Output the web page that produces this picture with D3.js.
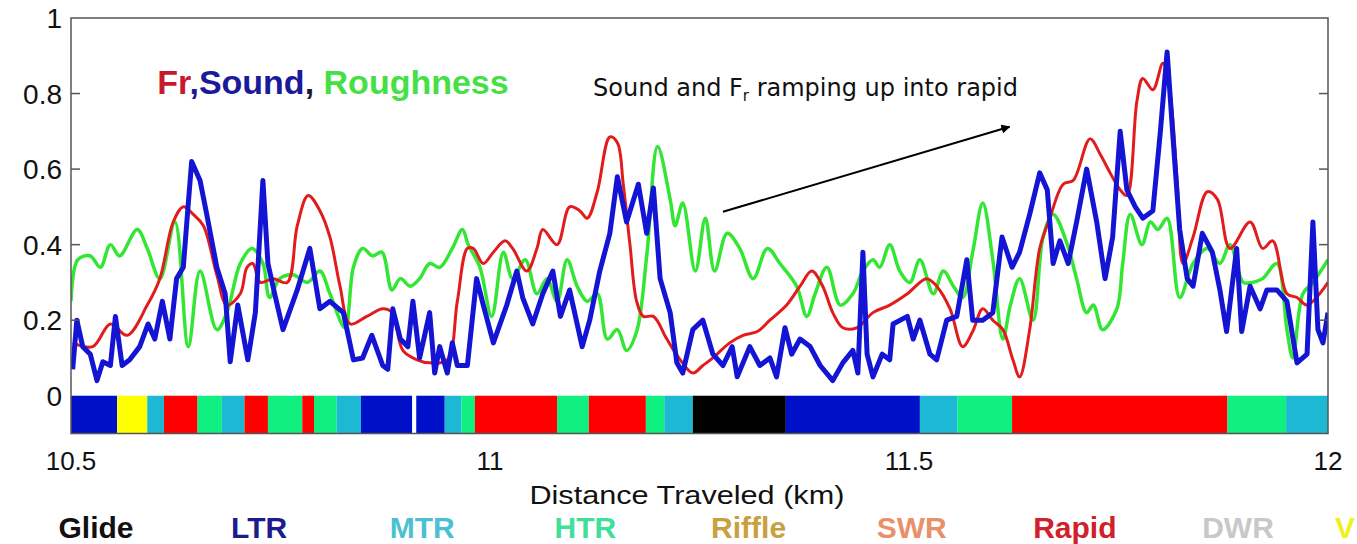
<!DOCTYPE html>
<html>
<head>
<meta charset="utf-8">
<script src="https://cdn.jsdelivr.net/npm/d3@7"></script>
<style>
  body { margin: 0; background: #fff; }
  svg { display: block; font-family: Arial, "Liberation Sans", sans-serif; }
</style>
</head>
<body>
<div id="wrapper"></div>
<script>
// 1. Data (distance in km, value)

const roughnessPoints = [
  [10.5,0.25],[10.508,0.36],[10.523,0.37],[10.535,0.34],[10.547,0.40],[10.558,0.37],[10.579,0.44],
  [10.591,0.39],[10.606,0.31],[10.624,0.46],[10.640,0.13],[10.654,0.33],[10.674,0.175],[10.686,0.22],
  [10.702,0.35],[10.716,0.39],[10.729,0.35],[10.737,0.26],[10.749,0.31],[10.765,0.32],[10.782,0.30],
  [10.797,0.33],[10.809,0.27],[10.827,0.18],[10.837,0.34],[10.848,0.39],[10.860,0.37],[10.871,0.38],
  [10.883,0.28],[10.893,0.31],[10.905,0.29],[10.916,0.31],[10.928,0.35],[10.940,0.34],[10.955,0.39],
  [10.967,0.44],[10.974,0.40],[10.988,0.34],[11.002,0.21],[11.016,0.38],[11.027,0.31],[11.042,0.36],
  [11.056,0.27],[11.068,0.31],[11.080,0.25],[11.092,0.36],[11.104,0.29],[11.116,0.25],[11.128,0.27],
  [11.140,0.15],[11.152,0.175],[11.163,0.12],[11.175,0.17],[11.187,0.37],[11.200,0.66],[11.215,0.52],
  [11.221,0.45],[11.230,0.51],[11.245,0.33],[11.257,0.47],[11.268,0.33],[11.283,0.43],[11.298,0.39],
  [11.314,0.31],[11.331,0.39],[11.346,0.35],[11.366,0.29],[11.378,0.21],[11.388,0.27],[11.402,0.34],
  [11.418,0.24],[11.433,0.27],[11.445,0.33],[11.457,0.36],[11.465,0.34],[11.477,0.40],[11.489,0.33],
  [11.501,0.30],[11.513,0.36],[11.529,0.27],[11.541,0.33],[11.553,0.29],[11.564,0.26],[11.576,0.38],
  [11.588,0.51],[11.600,0.36],[11.612,0.15],[11.621,0.24],[11.632,0.31],[11.648,0.20],[11.660,0.42],
  [11.672,0.48],[11.689,0.40],[11.700,0.31],[11.712,0.22],[11.720,0.24],[11.731,0.175],[11.748,0.23],
  [11.755,0.35],[11.764,0.48],[11.778,0.40],[11.788,0.46],[11.797,0.44],[11.808,0.47],[11.823,0.26],
  [11.839,0.35],[11.856,0.39],[11.871,0.35],[11.883,0.40],[11.899,0.30],[11.910,0.30],[11.922,0.31],
  [11.939,0.35],[11.951,0.175],[11.958,0.10],[11.970,0.27],[11.982,0.30],[12.0,0.36]
]

const frPoints = [
  [10.502,0.14],[10.526,0.13],[10.547,0.19],[10.567,0.16],[10.591,0.24],[10.606,0.31],[10.622,0.46],
  [10.634,0.50],[10.646,0.48],[10.658,0.45],[10.674,0.32],[10.686,0.24],[10.702,0.27],[10.710,0.34],
  [10.717,0.35],[10.726,0.30],[10.741,0.31],[10.758,0.30],[10.770,0.45],[10.783,0.53],[10.797,0.49],
  [10.809,0.42],[10.821,0.29],[10.833,0.19],[10.853,0.21],[10.872,0.23],[10.883,0.22],[10.896,0.12],
  [10.913,0.095],[10.928,0.087],[10.949,0.095],[10.961,0.25],[10.973,0.39],[10.980,0.39],[10.992,0.35],
  [11.004,0.38],[11.018,0.41],[11.027,0.39],[11.044,0.33],[11.056,0.39],[11.063,0.44],[11.080,0.40],
  [11.095,0.50],[11.107,0.49],[11.116,0.47],[11.128,0.54],[11.143,0.685],[11.152,0.67],[11.159,0.56],
  [11.167,0.40],[11.175,0.25],[11.183,0.21],[11.195,0.21],[11.211,0.15],[11.227,0.095],[11.242,0.06],
  [11.254,0.08],[11.266,0.10],[11.286,0.14],[11.302,0.16],[11.319,0.17],[11.334,0.20],[11.354,0.24],
  [11.370,0.29],[11.384,0.33],[11.397,0.29],[11.409,0.22],[11.421,0.18],[11.438,0.18],[11.457,0.22],
  [11.477,0.24],[11.498,0.27],[11.521,0.31],[11.533,0.29],[11.549,0.23],[11.564,0.13],[11.576,0.17],
  [11.588,0.23],[11.600,0.20],[11.612,0.175],[11.624,0.095],[11.632,0.05],[11.644,0.175],[11.656,0.39],
  [11.668,0.47],[11.684,0.56],[11.696,0.57],[11.716,0.68],[11.728,0.64],[11.740,0.59],[11.752,0.545],
  [11.760,0.53],[11.772,0.78],[11.779,0.84],[11.791,0.81],[11.803,0.88],[11.811,0.81],[11.820,0.57],
  [11.827,0.35],[11.839,0.42],[11.856,0.54],[11.868,0.52],[11.883,0.39],[11.907,0.46],[11.922,0.39],
  [11.934,0.41],[11.951,0.27],[11.963,0.26],[11.975,0.24],[11.990,0.27],[12.0,0.30]
]

const soundPoints = [
  [10.502,0.07],[10.507,0.20],[10.514,0.13],[10.523,0.11],[10.531,0.04],[10.538,0.09],[10.547,0.08],
  [10.553,0.21],[10.561,0.08],[10.570,0.095],[10.582,0.13],[10.592,0.19],[10.600,0.15],[10.609,0.25],
  [10.618,0.15],[10.626,0.31],[10.634,0.34],[10.640,0.51],[10.644,0.62],[10.654,0.57],[10.662,0.48],
  [10.674,0.34],[10.684,0.27],[10.690,0.09],[10.699,0.24],[10.711,0.095],[10.720,0.22],[10.729,0.57],
  [10.735,0.35],[10.743,0.27],[10.753,0.175],[10.770,0.28],[10.785,0.39],[10.797,0.23],[10.809,0.25],
  [10.825,0.22],[10.837,0.095],[10.848,0.10],[10.859,0.16],[10.872,0.08],[10.878,0.07],[10.884,0.23],
  [10.893,0.15],[10.902,0.13],[10.908,0.25],[10.916,0.10],[10.928,0.22],[10.934,0.06],[10.940,0.13],
  [10.949,0.06],[10.955,0.14],[10.961,0.08],[10.973,0.08],[10.984,0.31],[10.992,0.24],[11.004,0.14],
  [11.020,0.24],[11.032,0.33],[11.039,0.26],[11.051,0.19],[11.063,0.27],[11.075,0.33],[11.084,0.21],
  [11.095,0.28],[11.110,0.13],[11.119,0.20],[11.131,0.33],[11.143,0.43],[11.152,0.58],[11.163,0.46],
  [11.177,0.56],[11.187,0.43],[11.195,0.55],[11.203,0.31],[11.215,0.22],[11.223,0.087],[11.230,0.06],
  [11.242,0.175],[11.254,0.20],[11.266,0.11],[11.278,0.08],[11.289,0.13],[11.295,0.05],[11.310,0.13],
  [11.322,0.08],[11.334,0.10],[11.342,0.05],[11.352,0.18],[11.360,0.11],[11.370,0.15],[11.382,0.13],
  [11.394,0.08],[11.409,0.04],[11.421,0.087],[11.433,0.12],[11.439,0.06],[11.445,0.38],[11.450,0.11],
  [11.457,0.05],[11.468,0.11],[11.477,0.095],[11.481,0.19],[11.498,0.21],[11.505,0.15],[11.513,0.20],
  [11.525,0.11],[11.533,0.095],[11.545,0.20],[11.557,0.21],[11.569,0.36],[11.576,0.20],[11.588,0.20],
  [11.600,0.22],[11.611,0.42],[11.623,0.34],[11.632,0.38],[11.644,0.48],[11.656,0.59],[11.665,0.545],
  [11.672,0.35],[11.680,0.41],[11.690,0.35],[11.700,0.46],[11.712,0.60],[11.724,0.46],[11.734,0.31],
  [11.743,0.42],[11.752,0.70],[11.760,0.545],[11.770,0.50],[11.779,0.47],[11.791,0.49],[11.800,0.70],
  [11.808,0.91],[11.815,0.685],[11.823,0.44],[11.832,0.31],[11.839,0.29],[11.850,0.43],[11.862,0.38],
  [11.871,0.28],[11.879,0.17],[11.891,0.39],[11.897,0.17],[11.907,0.29],[11.919,0.23],[11.927,0.28],
  [11.939,0.28],[11.951,0.25],[11.963,0.087],[11.975,0.11],[11.982,0.46],[11.988,0.175],[11.994,0.14],
  [12.0,0.22]
]

// reach classes along the river: [start km, end km, class]
const reachSegments = [
  [10.5,10.555,"LTR"],[10.555,10.591,"V"],[10.591,10.611,"MTR"],[10.611,10.651,"Rapid"],
  [10.651,10.680,"HTR"],[10.680,10.707,"MTR"],[10.707,10.735,"Rapid"],[10.735,10.776,"HTR"],
  [10.776,10.790,"Rapid"],[10.790,10.817,"HTR"],[10.817,10.846,"MTR"],[10.846,10.907,"LTR"],
  [10.912,10.946,"LTR"],[10.946,10.966,"MTR"],[10.966,10.982,"HTR"],[10.982,11.080,"Rapid"],
  [11.080,11.118,"HTR"],[11.118,11.186,"Rapid"],[11.186,11.208,"HTR"],[11.208,11.242,"MTR"],
  [11.242,11.353,"Glide"],[11.353,11.513,"LTR"],[11.513,11.558,"MTR"],[11.558,11.623,"HTR"],
  [11.623,11.880,"Rapid"],[11.880,11.950,"HTR"],[11.950,12.0,"MTR"]
]

const legendClasses = ["Glide", "LTR", "MTR", "HTR", "Riffle", "SWR", "Rapid", "DWR", "V"]
const yTicks = [0, 0.2, 0.4, 0.6, 0.8, 1]
const xTicks = [10.5, 11, 11.5, 12]

// 2. Dimensions

const dimensions = {
  width: 1357,
  height: 544,
  margin: { top: 18, right: 29, bottom: 110.5, left: 71 },
}
dimensions.boundedWidth = dimensions.width - dimensions.margin.left - dimensions.margin.right
dimensions.boundedHeight = dimensions.height - dimensions.margin.top - dimensions.margin.bottom

// 3. Canvas

const wrapper = d3.select("#wrapper")
  .append("svg")
    .attr("width", dimensions.width)
    .attr("height", dimensions.height)

const bounds = wrapper.append("g")
    .attr("transform", `translate(${dimensions.margin.left},${dimensions.margin.top})`)

bounds.append("defs").append("clipPath")
    .attr("id", "plot-clip")
  .append("rect")
    .attr("width", dimensions.boundedWidth)
    .attr("height", dimensions.boundedHeight)

// 4. Scales

const xScale = d3.scaleLinear()
  .domain([10.5, 12])
  .range([0, dimensions.boundedWidth])

const yScale = d3.scaleLinear()
  .domain([-0.1, 1])
  .range([dimensions.boundedHeight, 0])

const barColor = d3.scaleOrdinal()
  .domain(["Glide", "LTR", "MTR", "HTR", "Rapid", "V"])
  .range(["#000000", "#0010c8", "#1cb8d4", "#10f080", "#ff0000", "#ffff00"])

const legendColor = d3.scaleOrdinal()
  .domain(legendClasses)
  .range(["#111111", "#1c1c8c", "#4cc0d0", "#40e09c", "#c8a040", "#e8906a", "#d0202c", "#c8c8c8", "#f0f020"])

// 5. Reach bar and data lines

bounds.append("g")
  .selectAll("rect")
  .data(reachSegments)
  .join("rect")
    .attr("x", d => xScale(d[0]))
    .attr("width", d => xScale(d[1]) - xScale(d[0]))
    .attr("y", yScale(0))
    .attr("height", yScale(-0.1) - yScale(0))
    .attr("fill", d => barColor(d[2]))

const lines = bounds.append("g").attr("clip-path", "url(#plot-clip)")

const smoothLine = d3.line()
  .x(d => xScale(d[0]))
  .y(d => yScale(d[1]))
  .curve(d3.curveCatmullRom.alpha(0.5))

const roughLine = d3.line()
  .x(d => xScale(d[0]))
  .y(d => yScale(d[1]))

lines.append("path")
    .attr("d", smoothLine(roughnessPoints))
    .attr("fill", "none")
    .attr("stroke", "#34e634")
    .attr("stroke-width", 3.5)
    .attr("stroke-linejoin", "round")

lines.append("path")
    .attr("d", smoothLine(frPoints))
    .attr("fill", "none")
    .attr("stroke", "#e21c1c")
    .attr("stroke-width", 3)
    .attr("stroke-linejoin", "round")

lines.append("path")
    .attr("d", roughLine(soundPoints))
    .attr("fill", "none")
    .attr("stroke", "#1414d4")
    .attr("stroke-width", 5)
    .attr("stroke-linejoin", "round")

// 6. Peripherals

const axisColor = "#555"

bounds.append("rect")
    .attr("width", dimensions.boundedWidth)
    .attr("height", dimensions.boundedHeight)
    .attr("fill", "none")
    .attr("stroke", axisColor)
    .attr("stroke-width", 1.5)

const yTickGroup = bounds.append("g")
yTickGroup.selectAll(".tick-left")
  .data(yTicks.filter(d => d > 0 && d < 1))
  .join("line")
    .attr("x1", 0).attr("x2", 9)
    .attr("y1", d => yScale(d)).attr("y2", d => yScale(d))
    .attr("stroke", axisColor)
    .attr("stroke-width", 1.5)
yTickGroup.selectAll(".tick-right")
  .data(yTicks.filter(d => d > 0 && d < 1))
  .join("line")
    .attr("x1", dimensions.boundedWidth - 9).attr("x2", dimensions.boundedWidth)
    .attr("y1", d => yScale(d)).attr("y2", d => yScale(d))
    .attr("stroke", axisColor)
    .attr("stroke-width", 1.5)

yTickGroup.selectAll("text")
  .data(yTicks)
  .join("text")
    .attr("x", -9)
    .attr("y", d => yScale(d))
    .attr("dy", "0.36em")
    .attr("text-anchor", "end")
    .attr("font-size", 28)
    .attr("fill", "#111")
    .text(d => d3.format("")(d))

bounds.append("g")
  .selectAll("text")
  .data(xTicks)
  .join("text")
    .attr("x", d => xScale(d))
    .attr("y", dimensions.boundedHeight + 36)
    .attr("text-anchor", "middle")
    .attr("font-size", 26)
    .attr("fill", "#111")
    .text(d => d3.format("")(d))

bounds.append("text")
    .attr("x", xScale(11.235))
    .attr("y", dimensions.boundedHeight + 70)
    .attr("text-anchor", "middle")
    .attr("font-size", 26)
    .attr("textLength", 315)
    .attr("lengthAdjust", "spacingAndGlyphs")
    .attr("fill", "#111")
    .text("Distance Traveled (km)")

// legend of reach classes under the axis
const legendX = d3.scalePoint()
  .domain(legendClasses.slice(0, 8))
  .range([96 - dimensions.margin.left, 1238 - dimensions.margin.left])

bounds.append("g")
  .selectAll("text")
  .data(legendClasses)
  .join("text")
    .attr("x", d => d == "V" ? dimensions.width - dimensions.margin.left - 2 : legendX(d))
    .attr("y", dimensions.boundedHeight + 104)
    .attr("text-anchor", d => d == "V" ? "end" : "middle")
    .attr("font-size", 30)
    .attr("font-weight", "bold")
    .attr("fill", d => legendColor(d))
    .text(d => d)

// series title
const title = bounds.append("text")
    .attr("x", xScale(10.603))
    .attr("y", yScale(0.80))
    .attr("font-size", 34)
    .attr("font-weight", "bold")
title.append("tspan").attr("fill", "#c8182c").text("Fr")
title.append("tspan").attr("fill", "#1a1a8c").text(",")
title.append("tspan").attr("fill", "#1a1a9a").text("Sound")
title.append("tspan").attr("fill", "#1a1a3a").text(", ")
title.append("tspan").attr("fill", "#44e044").text("Roughness")

// annotation with arrow
bounds.append("defs").append("marker")
    .attr("id", "arrow-head")
    .attr("viewBox", "0 0 10 10")
    .attr("refX", 9).attr("refY", 5)
    .attr("markerWidth", 9).attr("markerHeight", 9)
    .attr("markerUnits", "userSpaceOnUse")
    .attr("orient", "auto")
  .append("path")
    .attr("d", "M0,0 L10,5 L0,10 Z")
    .attr("fill", "#000")

bounds.append("line")
    .attr("x1", xScale(11.278)).attr("y1", yScale(0.487))
    .attr("x2", xScale(11.620)).attr("y2", yScale(0.712))
    .attr("stroke", "#000")
    .attr("stroke-width", 2)
    .attr("marker-end", "url(#arrow-head)")

const note = bounds.append("text")
    .attr("x", xScale(11.123))
    .attr("y", yScale(0.794))
    .attr("font-family", "'DejaVu Sans', sans-serif")
    .attr("font-size", 24)
    .attr("fill", "#111")
note.append("tspan").text("Sound and F")
note.append("tspan").attr("font-size", 15).attr("dy", 5).text("r")
note.append("tspan").attr("dy", -5).text(" ramping up into rapid")
</script>
</body>
</html>
